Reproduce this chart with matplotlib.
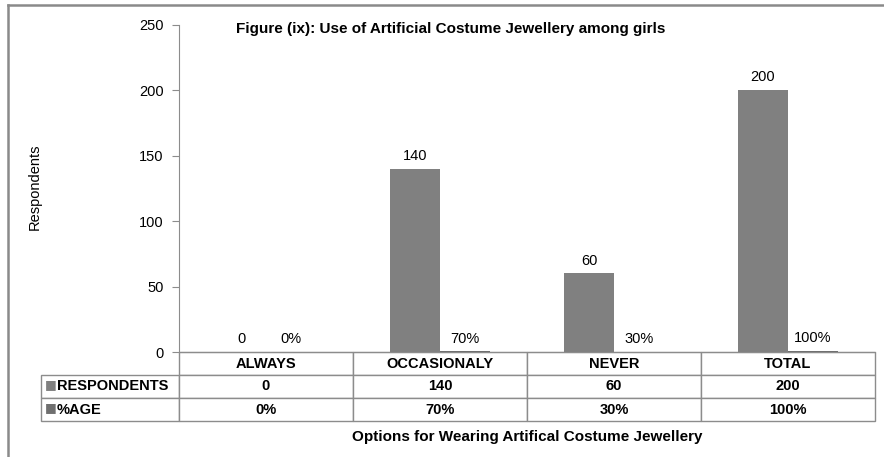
import matplotlib.pyplot as plt
from matplotlib.lines import Line2D
import numpy as np

# data
categories = ['ALWAYS', 'OCCASIONALY', 'NEVER', 'TOTAL']
respondents = [0, 140, 60, 200]
percentage = [0, 70, 30, 100]
series_names = ['RESPONDENTS', '%AGE']

plt.rcParams['font.family'] = ['Liberation Sans', 'DejaVu Sans']
grey = '#8c8c8c'
bar_c1 = '#808080'
bar_c2 = '#6f6f6f'

fig = plt.figure(figsize=(8.84, 4.57), dpi=100)
ax = fig.add_axes([179 / 884, 105 / 457, 696 / 884, 327.5 / 457])

x = np.arange(len(categories))
w = 0.287
pct_vals = [p / 100 for p in percentage]
ax.bar(x - w / 2, respondents, w, color=bar_c1)
ax.bar(x + w / 2, pct_vals, w, color=bar_c2)

for xi, v in zip(x, respondents):
    ax.annotate(str(v), (xi - w / 2, v), xytext=(0, 4), textcoords='offset points',
                ha='center', va='bottom', fontsize=10.5)
for xi, v, p in zip(x, pct_vals, percentage):
    ax.annotate(f'{p}%', (xi + w / 2, v), xytext=(0, 4), textcoords='offset points',
                ha='center', va='bottom', fontsize=10.5)

ax.set_xlim(-0.5, len(categories) - 0.5)
ax.set_ylim(0, 250)
ax.set_yticks([0, 50, 100, 150, 200, 250])
ax.tick_params(axis='y', length=5, color=grey, labelsize=10.5, pad=6)
ax.set_xticks([])
for s in ['top', 'right']:
    ax.spines[s].set_visible(False)
ax.spines['left'].set_color(grey)
ax.spines['bottom'].set_color(grey)

ax.set_ylabel('Respondents', fontsize=10.5)
ax.yaxis.set_label_coords((42 - 179) / 696, 0.504)

ax.text((236 - 179) / 696, (352 - 29) / 327.5, 'Figure (ix): Use of Artificial Costume Jewellery among girls',
        transform=ax.transAxes, fontsize=11, fontweight='bold', ha='left', va='center')

# data table under the axis
cell_text = [[''] + categories,
             [series_names[0]] + [str(v) for v in respondents],
             [series_names[1]] + [f'{p}%' for p in percentage]]
x0 = (40.7 - 179) / 696
tbl = ax.table(cellText=cell_text, cellLoc='center',
               bbox=[x0, -69 / 327.5, 1 - x0, 69 / 327.5])
tbl.auto_set_font_size(False)
tbl.set_fontsize(10.5)
col_w = [138.3] + [174] * len(categories)
for (r, c), cell in tbl.get_celld().items():
    cell.set_edgecolor(grey)
    cell.set_linewidth(1.0)
    cell.set_width(col_w[c])
    cell.get_text().set_fontweight('bold')
    if c == 0:
        cell._loc = 'left'
        cell.PAD = (57 - 40.7) / 138.3
        cell.get_text().set_ha('left')
    if r == 0 and c == 0:
        cell.set_visible(False)

# legend keys in the table
for i, col in enumerate([bar_c1, bar_c2]):
    yc = -(69 / 327.5) * (1.5 + i) / 3 + 0.006
    ax.text((51 - 179) / 696, yc, '■', transform=ax.transAxes, color=col,
            fontsize=9, ha='center', va='center', family='DejaVu Sans')

ax.text(0.5, (352 - 437) / 327.5, 'Options for Wearing Artifical Costume Jewellery',
        transform=ax.transAxes, ha='center', va='center', fontsize=11, fontweight='bold')

# outer frame of the chart
fig.add_artist(Line2D([8 / 884, 8 / 884], [0, 1 - 5 / 457], color='#8a8a8a', lw=1.8,
                      transform=fig.transFigure))
fig.add_artist(Line2D([8 / 884, 1], [1 - 5 / 457, 1 - 5 / 457], color='#8a8a8a', lw=1.8,
                      transform=fig.transFigure))

fig.savefig('out.png', dpi=100)
